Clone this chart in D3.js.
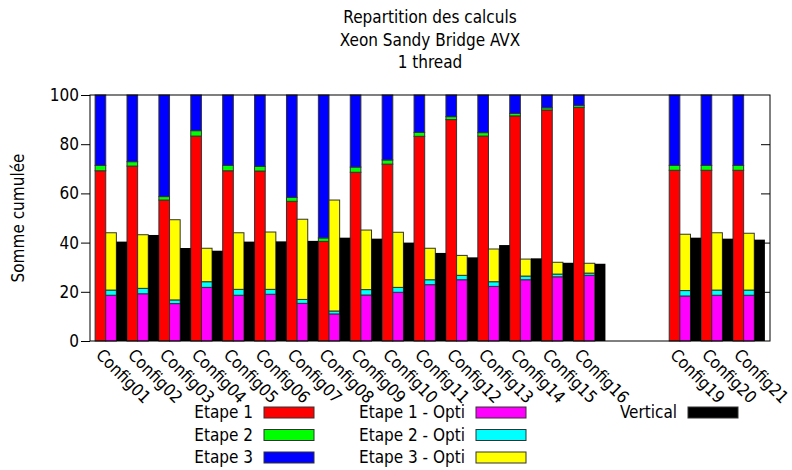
<!DOCTYPE html>
<html>
<head>
<meta charset="utf-8">
<script src="https://cdn.jsdelivr.net/npm/d3@7"></script>
<style>
  html, body { margin: 0; padding: 0; background: #fff; }
  svg { display: block; }
  text { font-family: "DejaVu Sans Condensed", "DejaVu Sans", sans-serif; font-stretch: condensed; font-size: 17px; fill: #000; }
</style>
</head>
<body>
<svg id="chart" width="792" height="470"></svg>
<script>
// ---- data ----
const titleLines = ["Repartition des calculs", "Xeon Sandy Bridge AVX", "1 thread"];
const yLabel = "Somme cumulée";
const slots = ["Config01","Config02","Config03","Config04","Config05","Config06","Config07","Config08",
  "Config09","Config10","Config11","Config12","Config13","Config14","Config15","Config16",
  "Config17","Config18","Config19","Config20","Config21"];
const categories = ["Config01","Config02","Config03","Config04","Config05","Config06","Config07","Config08",
  "Config09","Config10","Config11","Config12","Config13","Config14","Config15","Config16",
  "Config19","Config20","Config21"];
const etape1 = [69.2, 71.1, 57.3, 83.3, 69.2, 69.1, 56.8, 40.5, 68.6, 71.9, 83.2, 90.0, 83.3, 91.5, 93.9, 95.0, 69.4, 69.4, 69.4];
const etape2 = [2.2, 1.8, 1.4, 2.2, 2.2, 1.9, 1.6, 1.4, 2.1, 1.7, 1.6, 1.2, 1.4, 1.0, 0.9, 0.8, 2.0, 2.0, 2.0];
const etape3 = [28.6, 27.1, 41.3, 14.5, 28.6, 29.0, 41.6, 58.1, 29.3, 26.4, 15.2, 8.8, 15.3, 7.5, 5.2, 4.2, 28.6, 28.6, 28.6];
const opti1 = [18.6, 19.2, 15.2, 21.8, 18.6, 19.0, 15.3, 11.0, 18.7, 19.8, 22.9, 24.9, 22.2, 24.9, 26.1, 26.7, 18.3, 18.6, 18.6];
const opti2 = [2.1, 2.2, 1.5, 2.3, 2.4, 2.0, 1.6, 1.2, 2.2, 2.0, 2.0, 1.8, 1.9, 1.5, 1.1, 0.9, 2.2, 2.1, 2.1];
const opti3 = [23.3, 21.8, 32.6, 13.6, 23.0, 23.3, 32.6, 45.1, 24.2, 22.4, 12.8, 8.1, 13.3, 6.9, 4.8, 4.0, 22.9, 23.3, 23.1];
const vertical = [40.4, 43.1, 37.8, 36.7, 40.4, 40.5, 40.7, 42.0, 41.6, 40.0, 35.8, 34.0, 39.0, 33.6, 31.8, 31.4, 42.0, 41.6, 41.2];
const yTicks = [0, 20, 40, 60, 80, 100];

const seriesNames = ["Etape 1", "Etape 2", "Etape 3", "Etape 1 - Opti", "Etape 2 - Opti", "Etape 3 - Opti", "Vertical"];
const seriesColors = ["#ff0000", "#00ff00", "#0000ff", "#ff00ff", "#00ffff", "#ffff00", "#000000"];

// ---- layout ----
const svg = d3.select("#chart");
const plot = { left: 90, right: 770, top: 95, bottom: 341 };

const x = d3.scaleBand().domain(slots).range([plot.left, plot.right]).paddingInner(0).paddingOuter(0.16);
const sub = d3.scaleBand().domain(["etapes", "opti", "vertical"]).range([0, x.bandwidth()]).padding(0);
const y = d3.scaleLinear().domain([0, 100]).range([plot.bottom, plot.top]);

const rows = categories.map((c, i) => ({
  cat: c, e1: etape1[i], e2: etape2[i], e3: etape3[i],
  o1: opti1[i], o2: opti2[i], o3: opti3[i], v: vertical[i]
}));

const stackE = d3.stack().keys(["e1", "e2", "e3"])(rows);
const stackO = d3.stack().keys(["o1", "o2", "o3"])(rows);

const barStroke = "#333";

function drawStack(stack, group, colors) {
  stack.forEach((layer, li) => {
    svg.append("g").selectAll("rect").data(layer).join("rect")
      .attr("x", d => x(d.data.cat) + sub(group))
      .attr("width", sub.bandwidth())
      .attr("y", d => y(d[1]))
      .attr("height", d => y(d[0]) - y(d[1]))
      .attr("fill", colors[li])
      .attr("stroke", barStroke)
      .attr("stroke-width", 1);
  });
}
drawStack(stackE, "etapes", seriesColors.slice(0, 3));
drawStack(stackO, "opti", seriesColors.slice(3, 6));

svg.append("g").selectAll("rect").data(rows).join("rect")
  .attr("x", d => x(d.cat) + sub("vertical"))
  .attr("width", sub.bandwidth())
  .attr("y", d => y(d.v))
  .attr("height", d => y(0) - y(d.v))
  .attr("fill", seriesColors[6]);

// ---- frame ----
svg.append("rect")
  .attr("x", plot.left).attr("y", plot.top)
  .attr("width", plot.right - plot.left).attr("height", plot.bottom - plot.top)
  .attr("fill", "none").attr("stroke", "#000").attr("stroke-width", 1);

// y axis (left, ticks outward) and mirror (right, ticks inward)
const yAxisL = d3.axisLeft(y).tickValues(yTicks).tickSize(9).tickPadding(2);
const gL = svg.append("g").attr("transform", `translate(${plot.left},0)`).call(yAxisL);
gL.select(".domain").remove();
gL.selectAll("line").attr("stroke", "#000");
gL.selectAll("text").style("font-size", "17px").attr("fill", "#000");

const yAxisR = d3.axisLeft(y).tickValues(yTicks.slice(1, -1)).tickSize(9).tickFormat("");
const gR = svg.append("g").attr("transform", `translate(${plot.right},0)`).call(yAxisR);
gR.select(".domain").remove();
gR.selectAll("line").attr("stroke", "#000");

// x labels
svg.append("g").selectAll("text").data(categories).join("text")
  .attr("transform", d => `translate(${x(d) + x.bandwidth() / 2 - 16},${plot.bottom + 15}) rotate(45)`)
  .attr("text-anchor", "start")
  .text(d => d);

// title
svg.append("g").selectAll("text").data(titleLines).join("text")
  .attr("x", (plot.left + plot.right) / 2)
  .attr("y", (d, i) => 23 + i * 22.5)
  .attr("text-anchor", "middle")
  .text(d => d);

// y label
svg.append("text")
  .attr("transform", `translate(24,${(plot.top + plot.bottom) / 2}) rotate(-90)`)
  .attr("text-anchor", "middle")
  .text(yLabel);

// legend
const legendCols = [
  [0, 1, 2],
  [3, 4, 5],
  [6]
];
const colTextEnd = [253, 465, 677];
const rowY = [412.5, 435, 457.5];
legendCols.forEach((col, ci) => {
  col.forEach((si, ri) => {
    const g = svg.append("g");
    g.append("text")
      .attr("x", colTextEnd[ci])
      .attr("y", rowY[ri])
      .attr("dy", "0.35em")
      .attr("text-anchor", "end")
      .text(seriesNames[si]);
    g.append("rect")
      .attr("x", colTextEnd[ci] + 11)
      .attr("y", rowY[ri] - 5.5)
      .attr("width", 50)
      .attr("height", 11)
      .attr("fill", seriesColors[si])
      .attr("stroke", barStroke)
      .attr("stroke-width", 1);
  });
});
</script>
</body>
</html>
